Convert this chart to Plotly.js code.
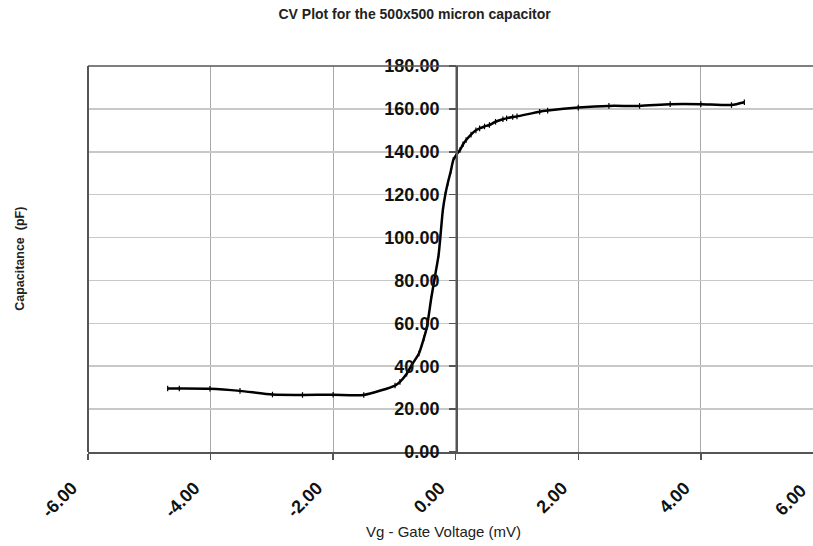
<!DOCTYPE html>
<html>
<head>
<meta charset="utf-8">
<script src="https://cdn.plot.ly/plotly-3.0.1.min.js"></script>
<style>html,body{margin:0;padding:0;background:#fff}#chart{width:813px;height:546px}</style>
</head>
<body>
<div id="chart"></div>
<script>
const voltage = [-4.70, -4.51, -4.01, -3.52, -2.99, -2.50, -2.00, -1.50, -0.99, -0.91, -0.80, -0.72, -0.60, -0.52, -0.47, -0.40, -0.34, -0.28, -0.25, -0.21, -0.17, -0.13, -0.08, -0.04, 0.02, 0.07, 0.12, 0.17, 0.25, 0.33, 0.39, 0.47, 0.55, 0.65, 0.77, 0.83, 0.93, 1.00, 1.37, 1.50, 2.00, 2.50, 3.00, 3.50, 4.00, 4.50, 4.71];
const capacitance = [29.6, 29.6, 29.5, 28.5, 26.8, 26.6, 26.7, 26.6, 31.0, 32.7, 36.5, 40.5, 45.9, 53.0, 58.3, 71.6, 81.7, 91.7, 100.3, 112.8, 120.0, 125.3, 131.0, 136.1, 139.0, 140.8, 143.5, 145.5, 148.0, 150.0, 150.9, 151.8, 152.5, 154.0, 155.2, 155.6, 156.2, 156.5, 158.7, 159.2, 160.6, 161.4, 161.4, 162.2, 162.2, 161.8, 163.1];
const xTicks = [-6, -4, -2, 0, 2, 4];
const xTickText = ["-6.00", "-4.00", "-2.00", "0.00", "2.00", "4.00"];
const yTicks = [0, 20, 40, 60, 80, 100, 120, 140, 160, 180];
const yTickText = ["0.00", "20.00", "40.00", "60.00", "80.00", "100.00", "120.00", "140.00", "160.00", "180.00"];
const titleText = "CV Plot for the 500x500 micron capacitor";
const xTitle = "Vg - Gate Voltage (mV)";
const yTitle = "Capacitance  (pF)";

const trace = {
  x: voltage, y: capacitance, type: 'scatter', mode: 'lines+markers',
  line: {color: '#000', width: 2.5, shape: 'spline', smoothing: 0.6},
  marker: {symbol: 'line-ns-open', size: 4, color: '#000', line: {color: '#000', width: 1.2}},
  cliponaxis: false, hoverinfo: 'none'
};

const axisFont = {family: 'Liberation Sans, Arial, sans-serif', size: 18, color: '#111', weight: 'bold'};

const layout = {
  width: 813, height: 546,
  margin: {l: 88, r: 0, t: 66, b: 94, pad: 0},
  paper_bgcolor: '#fff', plot_bgcolor: '#fff',
  showlegend: false,
  title: {text: '<b>' + titleText + '</b>', x: 0.51, xanchor: 'center', xref: 'container', y: 0.975, yanchor: 'middle', yref: 'container', font: {family: 'Liberation Sans, Arial, sans-serif', size: 14, color: '#222'}},
  xaxis: {
    range: [-6, 5.83], tickvals: xTicks, ticktext: xTickText, tickangle: -45,
    showgrid: true, gridcolor: '#a8a8a8', gridwidth: 1,
    zeroline: false, showline: true, linecolor: '#555', linewidth: 1.5,
    ticks: 'outside', ticklen: 6, tickcolor: '#555', tickwidth: 1.5,
    ticklabelstandoff: 11, ticklabelshift: -16,
    tickfont: axisFont, fixedrange: true
  },
  yaxis: {
    range: [0, 180], tickvals: yTicks, ticktext: yTickText,
    anchor: 'free', position: 0.5076,
    showgrid: true, gridcolor: '#c8c8c8', gridwidth: 1.5,
    zeroline: false, showline: true, linecolor: '#555', linewidth: 1.5,
    ticks: 'outside', ticklen: 7, tickcolor: '#555', tickwidth: 1.5,
    ticklabelstandoff: 6,
    tickfont: axisFont, fixedrange: true
  },
  shapes: [
    {type: 'line', xref: 'paper', yref: 'paper', x0: 0, x1: 0, y0: 0, y1: 1, line: {color: '#555', width: 2}},
    {type: 'line', xref: 'paper', yref: 'paper', x0: 0, x1: 1, y0: 1, y1: 1, line: {color: '#555', width: 1.5}}
  ],
  annotations: [
    {text: '<b>' + yTitle + '</b>', xref: 'paper', yref: 'paper', x: -0.094, y: 0.5, xanchor: 'center', yanchor: 'middle', textangle: -90, showarrow: false, font: {family: 'Liberation Sans, Arial, sans-serif', size: 12.5, color: '#222'}},
    {text: xTitle, xref: 'paper', yref: 'paper', x: 0.49, y: -0.207, xanchor: 'center', yanchor: 'middle', showarrow: false, font: {family: 'Liberation Sans, Arial, sans-serif', size: 15, color: '#222'}},
    {text: '<b>6.00</b>', xref: 'paper', yref: 'paper', x: 1.0, y: -0.066, xanchor: 'right', yanchor: 'top', textangle: -45, showarrow: false, font: axisFont}
  ]
};

Plotly.newPlot('chart', [trace], layout, {displayModeBar: false, staticPlot: true});
</script>
</body>
</html>
